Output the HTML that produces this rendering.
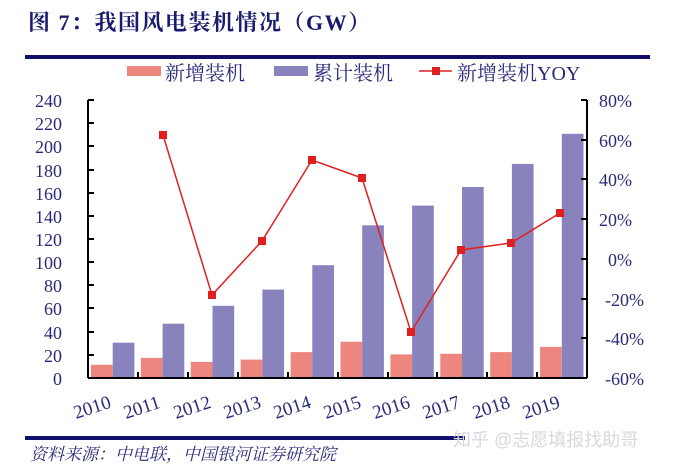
<!DOCTYPE html>
<html><head><meta charset="utf-8"><style>body{margin:0;background:#fff}svg{display:block}</style></head><body>
<svg width="676" height="471" xmlns="http://www.w3.org/2000/svg" font-family="Liberation Serif, Noto Serif CJK SC, serif">
<text x="28" y="30" font-size="22" font-weight="bold" fill="#1a1a70" letter-spacing="1.5">图 7：我国风电装机情况（GW）</text>
<rect x="25" y="55" width="625" height="4" fill="#10106a"/>
<rect x="127" y="66" width="34" height="10" fill="#ee8680"/>
<text x="165" y="80" font-size="20" fill="#2a2a7a">新增装机</text>
<rect x="274" y="66" width="34" height="10" fill="#8883bd"/>
<text x="313" y="80" font-size="20" fill="#2a2a7a">累计装机</text>
<line x1="419" y1="71" x2="452" y2="71" stroke="#e02020" stroke-width="1.5"/>
<rect x="432" y="67" width="8" height="8" fill="#e02020"/>
<text x="457" y="80" font-size="20" fill="#2a2a7a">新增装机YOY</text>
<g fill="#ee8680">
<rect x="91" y="364.8" width="21.7" height="12.2"/>
<rect x="140.9" y="357.9" width="21.7" height="19.1"/>
<rect x="190.8" y="361.9" width="21.7" height="15.1"/>
<rect x="240.7" y="359.6" width="21.7" height="17.4"/>
<rect x="290.6" y="352.1" width="21.7" height="24.9"/>
<rect x="340.5" y="341.7" width="21.7" height="35.3"/>
<rect x="390.4" y="354.4" width="21.7" height="22.6"/>
<rect x="440.3" y="353.8" width="21.7" height="23.2"/>
<rect x="490.2" y="352.1" width="21.7" height="24.9"/>
<rect x="540.1" y="346.9" width="21.7" height="30.1"/>
</g>
<g fill="#8883bd">
<rect x="112.7" y="342.7" width="21.7" height="34.3"/>
<rect x="162.6" y="323.7" width="21.7" height="53.3"/>
<rect x="212.5" y="305.8" width="21.7" height="71.2"/>
<rect x="262.4" y="289.6" width="21.7" height="87.4"/>
<rect x="312.3" y="265.2" width="21.7" height="111.8"/>
<rect x="362.2" y="225.3" width="21.7" height="151.7"/>
<rect x="412.1" y="205.6" width="21.7" height="171.4"/>
<rect x="462" y="187" width="21.7" height="190"/>
<rect x="511.9" y="163.9" width="21.7" height="213.1"/>
<rect x="561.8" y="133.8" width="21.7" height="243.2"/>
</g>
<g stroke="#000" stroke-width="2" fill="none">
<line x1="88" y1="100" x2="88" y2="378"/>
<line x1="587" y1="100" x2="587" y2="378"/>
<line x1="88" y1="378" x2="587" y2="378"/>
<line x1="88" y1="100" x2="94" y2="100"/><line x1="88" y1="123" x2="94" y2="123"/><line x1="88" y1="146" x2="94" y2="146"/><line x1="88" y1="170" x2="94" y2="170"/><line x1="88" y1="193" x2="94" y2="193"/><line x1="88" y1="216" x2="94" y2="216"/><line x1="88" y1="239" x2="94" y2="239"/><line x1="88" y1="262" x2="94" y2="262"/><line x1="88" y1="285" x2="94" y2="285"/><line x1="88" y1="308" x2="94" y2="308"/><line x1="88" y1="332" x2="94" y2="332"/><line x1="88" y1="355" x2="94" y2="355"/>
<line x1="581" y1="100" x2="587" y2="100"/><line x1="581" y1="140" x2="587" y2="140"/><line x1="581" y1="179" x2="587" y2="179"/><line x1="581" y1="219" x2="587" y2="219"/><line x1="581" y1="259" x2="587" y2="259"/><line x1="581" y1="299" x2="587" y2="299"/><line x1="581" y1="338" x2="587" y2="338"/>
<line x1="138" y1="378" x2="138" y2="372"/><line x1="188" y1="378" x2="188" y2="372"/><line x1="238" y1="378" x2="238" y2="372"/><line x1="288" y1="378" x2="288" y2="372"/><line x1="338" y1="378" x2="338" y2="372"/><line x1="388" y1="378" x2="388" y2="372"/><line x1="437" y1="378" x2="437" y2="372"/><line x1="487" y1="378" x2="487" y2="372"/><line x1="537" y1="378" x2="537" y2="372"/>
</g>
<g font-size="18" fill="#2a2a7a" text-anchor="end">
<text x="62" y="107">240</text><text x="62" y="130">220</text><text x="62" y="153">200</text><text x="62" y="177">180</text><text x="62" y="200">160</text><text x="62" y="223">140</text><text x="62" y="246">120</text><text x="62" y="269">100</text><text x="62" y="292">80</text><text x="62" y="315">60</text><text x="62" y="339">40</text><text x="62" y="362">20</text><text x="62" y="385">0</text>
</g>
<g font-size="18" fill="#2a2a7a" text-anchor="end">
<text x="632" y="107">80%</text><text x="632" y="147">60%</text><text x="632" y="186">40%</text><text x="632" y="226">20%</text><text x="632" y="266">0%</text><text x="644" y="306">-20%</text><text x="644" y="345">-40%</text><text x="644" y="385">-60%</text>
</g>
<g font-size="19" fill="#2a2a7a">
<text transform="translate(76,419) rotate(-18)">2010</text>
<text transform="translate(126,419) rotate(-18)">2011</text>
<text transform="translate(176,419) rotate(-18)">2012</text>
<text transform="translate(226,419) rotate(-18)">2013</text>
<text transform="translate(276,419) rotate(-18)">2014</text>
<text transform="translate(326,419) rotate(-18)">2015</text>
<text transform="translate(375,419) rotate(-18)">2016</text>
<text transform="translate(425,419) rotate(-18)">2017</text>
<text transform="translate(475,419) rotate(-18)">2018</text>
<text transform="translate(525,419) rotate(-18)">2019</text>
</g>
<polyline fill="none" stroke="#e02020" stroke-width="1.5" points="163,135 212,295 262,241 312,160 362,178 411,332 461,250 511,243 560,213"/>
<g fill="#e02020">
<rect x="159" y="131" width="8" height="8"/><rect x="208" y="291" width="8" height="8"/><rect x="258" y="237" width="8" height="8"/><rect x="308" y="156" width="8" height="8"/><rect x="358" y="174" width="8" height="8"/><rect x="407" y="328" width="8" height="8"/><rect x="457" y="246" width="8" height="8"/><rect x="507" y="239" width="8" height="8"/><rect x="556" y="209" width="8" height="8"/>
</g>
<rect x="25" y="436" width="440" height="4" fill="#10106a"/>
<text x="30" y="460" font-size="17" font-style="italic" fill="#2a2a7a">资料来源：中电联，中国银河证券研究院</text>
<text x="453" y="446" font-size="18" fill="#d8d8d8" font-family="Liberation Sans, Noto Sans CJK SC, sans-serif">知乎 @志愿填报找助哥</text>
</svg>
</body></html>
